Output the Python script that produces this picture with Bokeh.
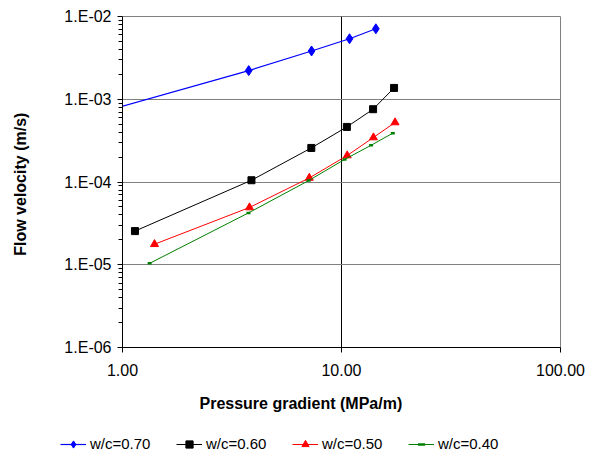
from bokeh.plotting import figure
from bokeh.layouts import column
from bokeh.models import FixedTicker, Legend, LegendItem, Range1d, Title
from bokeh.embed import file_html
from bokeh.resources import INLINE

# Flow velocity (m/s) against pressure gradient (MPa/m) for four w/c ratios
x_070 = [0.70, 3.77, 7.30, 10.88, 14.35]
y_070 = [6.3e-4, 2.22e-3, 3.83e-3, 5.38e-3, 7.10e-3]

x_060 = [1.14, 3.88, 7.28, 10.58, 13.94, 17.38]
y_060 = [2.55e-5, 1.05e-4, 2.58e-4, 4.63e-4, 7.58e-4, 1.37e-3]

x_050 = [1.40, 3.80, 7.13, 10.62, 13.99, 17.56]
y_050 = [1.77e-5, 4.92e-5, 1.12e-4, 2.09e-4, 3.45e-4, 5.24e-4]

x_040 = [1.33, 3.76, 7.08, 10.32, 13.65, 17.15]
y_040 = [1.04e-5, 4.23e-5, 1.04e-4, 1.87e-4, 2.78e-4, 3.89e-4]

series_names = ["w/c=0.70", "w/c=0.60", "w/c=0.50", "w/c=0.40"]

x_ticks = [1, 10, 100]
x_tick_labels = ["1.00", "10.00", "100.00"]
y_ticks = [1e-6, 1e-5, 1e-4, 1e-3, 1e-2]
y_tick_labels = ["1.E-06", "1.E-05", "1.E-04", "1.E-03", "1.E-02"]

x_title = "Pressure gradient   (MPa/m)"
y_title = "Flow velocity  (m/s)"

FONT = "Liberation Sans"
W, H_MAIN, H_LEG = 595, 430, 26
FRAME_L, FRAME_B = 122, 347

p = figure(width=W, height=H_MAIN, x_axis_type="log", y_axis_type="log",
           x_range=Range1d(1, 100), y_range=Range1d(1e-6, 1e-2),
           output_backend="svg", toolbar_location=None,
           min_border_left=FRAME_L, min_border_right=35,
           min_border_top=16, min_border_bottom=H_MAIN - FRAME_B)
p.frame_align = False
p.background_fill_color = "white"
p.border_fill_color = "white"
p.outline_line_color = "#808080"
p.outline_line_width = 1

# minor ticks at 2..9 of every decade on the y axis
y_minor = [m * 10.0 ** e for e in range(-6, -2) for m in range(2, 10)]

p.xaxis.ticker = FixedTicker(ticks=x_ticks, minor_ticks=[])
p.yaxis.ticker = FixedTicker(ticks=y_ticks, minor_ticks=y_minor)
p.xaxis.major_label_overrides = dict(zip(x_ticks, x_tick_labels))
p.yaxis.major_label_overrides = dict(zip(y_ticks, y_tick_labels))

for ax in (p.xaxis[0], p.yaxis[0]):
    ax.axis_line_color = "black"
    ax.major_tick_line_color = "black"
    ax.minor_tick_line_color = "black"
    ax.major_tick_out = 5
    ax.major_tick_in = 0
    ax.minor_tick_out = 4
    ax.minor_tick_in = 0
    ax.major_label_text_font = FONT
    ax.major_label_text_font_size = "16px"
    ax.major_label_text_color = "black"
p.xaxis.major_label_standoff = 11
p.yaxis.major_label_standoff = 6

p.yaxis.axis_label = y_title
p.yaxis.axis_label_text_font = FONT
p.yaxis.axis_label_text_font_size = "16px"
p.yaxis.axis_label_text_font_style = "bold"
p.yaxis.axis_label_text_color = "black"
p.yaxis.axis_label_standoff = 32

p.xgrid.ticker = FixedTicker(ticks=[10])
p.xgrid.grid_line_color = "black"
p.xgrid.grid_line_width = 1
p.ygrid.ticker = FixedTicker(ticks=y_ticks)
p.ygrid.grid_line_color = "#808080"
p.ygrid.grid_line_width = 1

# x title centred on the whole chart rather than on the plot frame
p.add_layout(Title(text=x_title, align="left", offset=77, vertical_align="middle",
                   standoff=30, text_font=FONT, text_font_size="16px",
                   text_font_style="bold", text_color="black"), "below")

styles = [
    (x_070, y_070, "#0000FF", "diamond", 10, 1.2),
    (x_060, y_060, "#000000", "square", 7, 1.0),
    (x_050, y_050, "#FF0000", "triangle", 8, 1.0),
    (x_040, y_040, "#008000", "dash", 4, 2.5),
]


def draw_series(fig, xs, ys, color, marker, size, lw, line_w, visible=True):
    r_line = fig.line(xs, ys, line_color=color, line_width=line_w, visible=visible)
    r_mark = fig.scatter(xs, ys, marker=marker, size=size, fill_color=color,
                         line_color=color, line_width=lw if marker == "dash" else 1.0,
                         visible=visible)
    return r_line, r_mark


for i, (xs, ys, color, marker, size, lw) in enumerate(styles):
    draw_series(p, xs, ys, color, marker, size, lw, 1.2 if i == 0 else 1.0)

# legend strip underneath the chart, spanning the full width
leg_fig = figure(width=W, height=H_LEG, output_backend="svg", toolbar_location=None,
                 x_axis_location=None, y_axis_location=None,
                 x_range=Range1d(1000, 2000), y_range=Range1d(1000, 2000),
                 min_border=0, min_border_left=0, min_border_right=0,
                 min_border_top=0, min_border_bottom=0)
leg_fig.frame_align = False
leg_fig.outline_line_color = None
leg_fig.xgrid.visible = False
leg_fig.ygrid.visible = False
leg_fig.background_fill_color = "white"
leg_fig.border_fill_color = "white"

items = []
for i, (xs, ys, color, marker, size, lw) in enumerate(styles):
    r_line, r_mark = draw_series(leg_fig, xs, ys, color, marker, size, lw,
                                 1.2 if i == 0 else 1.0, visible=False)
    items.append(LegendItem(label=series_names[i], renderers=[r_line, r_mark]))

legend = Legend(items=items, location=(60, 2.5),
                orientation="horizontal", padding=0, spacing=0, margin=0,
                glyph_width=26, glyph_height=18, label_standoff=4,
                label_width=86, label_height=20,
                label_text_font=FONT, label_text_font_size="15px",
                label_text_color="black",
                border_line_color=None, background_fill_alpha=0)
leg_fig.add_layout(legend, "center")

layout = column(p, leg_fig, spacing=0)
open("out.html", "w").write(file_html(layout, INLINE))
